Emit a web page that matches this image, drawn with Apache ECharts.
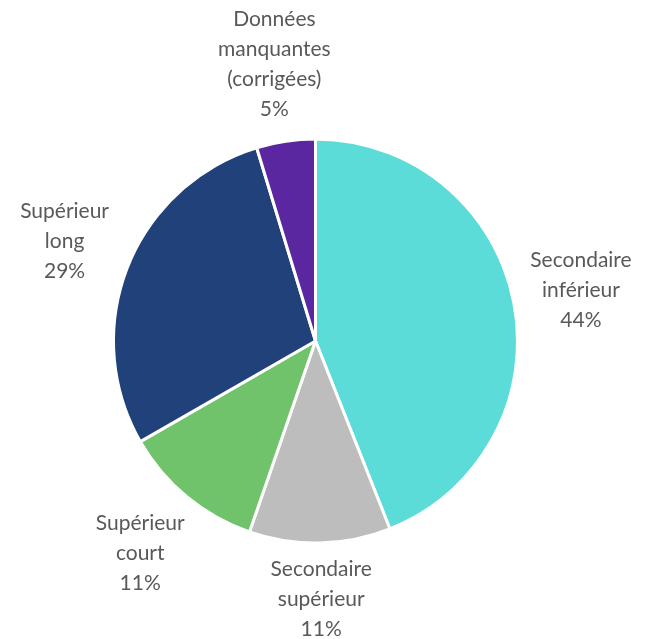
<!DOCTYPE html>
<html><head><meta charset="utf-8">
<script src="https://cdn.jsdelivr.net/npm/echarts@6/dist/echarts.min.js"></script>
<style>html,body{margin:0;padding:0;background:#fff}#c{width:645px;height:639px}</style>
</head><body><div id="c"></div>
<script>
const categories = ['Secondaire\ninférieur', 'Secondaire\nsupérieur', 'Supérieur\ncourt', 'Supérieur\nlong', 'Données\nmanquantes\n(corrigées)'];
const values = [44.0, 11.3, 11.4, 28.6, 4.7];
const colors = ['#5BDCD8', '#BDBDBD', '#70C36A', '#21417A', '#5B27A0'];

const CX = 315.5, CY = 341, R = 202, GAP = 10;
const total = values.reduce((a, b) => a + b, 0);
const mids = [];
let acc = 0;
values.forEach(v => { mids.push((acc + v / 2) / total * 2 * Math.PI); acc += v; });

const chart = echarts.init(document.getElementById('c'), null, {renderer: 'canvas'});
chart.setOption({
  animation: false,
  series: [{
    type: 'pie',
    center: [CX, CY],
    radius: R,
    startAngle: 90,
    clockwise: true,
    percentPrecision: 0,
    itemStyle: {borderColor: '#fff', borderWidth: 3},
    label: {
      show: true,
      position: 'outside',
      formatter: '{b}\n{d}%',
      fontFamily: 'Lato',
      fontSize: 21,
      lineHeight: 30,
      color: '#595959',
      align: 'center'
    },
    labelLine: {show: false, length: 0, length2: 0},
    labelLayout: function (p) {
      const a = mids[p.dataIndex];
      const ux = Math.sin(a), uy = -Math.cos(a);
      const w = p.labelRect.width, h = p.labelRect.height;
      const d = R + GAP + Math.abs(ux) * w / 2 + Math.abs(uy) * h / 2;
      return {x: CX + ux * d, y: CY + uy * d, align: 'center', verticalAlign: 'middle'};
    },
    data: categories.map((c, i) => ({name: c, value: values[i], itemStyle: {color: colors[i]}}))
  }]
});
</script></body></html>
